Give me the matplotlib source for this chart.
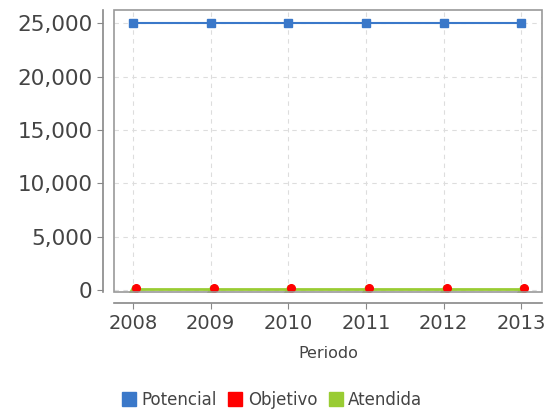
import matplotlib
matplotlib.use("Agg")
import matplotlib.pyplot as plt
from matplotlib.patches import Rectangle
from matplotlib.lines import Line2D
from matplotlib.ticker import FuncFormatter

years = [2008, 2009, 2010, 2011, 2012, 2013]
potencial = [25000, 25000, 25000, 25000, 25000, 25000]
objetivo = [150, 150, 150, 150, 150, 150]
atendida = [120, 120, 120, 120, 120, 120]

fig = plt.figure(figsize=(5.45, 4.13), dpi=100)
ax = fig.add_axes([0.209, 0.293, 0.786, 0.683])

ax.plot(years, potencial, '-', color='#3a78c9', lw=1.5, marker='s', ms=6, zorder=3)
ax.plot(years, atendida, '-', color='#99cc33', lw=2, marker='^', ms=6, zorder=3)
ax.plot([y + 0.04 for y in years], objetivo, 'o', color='#ff0000', ms=5.5, zorder=4)

ax.set_xlim(2007.755, 2013.27)
ax.set_ylim(-190, 26250)
ax.set_xticks(years)
ax.set_yticks([0, 5000, 10000, 15000, 20000, 25000])
ax.yaxis.set_major_formatter(FuncFormatter(lambda v, p: '{:,.0f}'.format(v)))
ax.grid(True, ls=(0, (4, 4)), color='#dddddd', lw=0.8)
ax.set_axisbelow(True)

for s in ['top', 'right']:
    ax.spines[s].set_visible(False)
for s in ['left', 'bottom']:
    ax.spines[s].set_position(('outward', 8))
    ax.spines[s].set_color('#888888')
    ax.spines[s].set_linewidth(1.2)
ax.add_patch(Rectangle((0, 0), 1, 1, transform=ax.transAxes, fill=False,
                       ec='#999999', lw=1.2, clip_on=False, zorder=5))
ax.tick_params(colors='#888888', labelcolor='#444444', length=4)
ax.tick_params(axis='x', labelsize=14)
ax.tick_params(axis='y', labelsize=15.5)

ax.set_xlabel('Periodo', fontsize=11.5, color='#444444', labelpad=10)

handles = [Line2D([], [], ls='', marker='s', ms=10, color=c) for c in ['#3a78c9', '#ff0000', '#99cc33']]
fig.legend(handles, ['Potencial', 'Objetivo', 'Atendida'], loc='center', bbox_to_anchor=(0.5, 0.031),
           ncol=3, frameon=False, fontsize=12, handlelength=0.8, handletextpad=0.35,
           columnspacing=0.7, labelcolor='#444444')

fig.savefig('out.png', dpi=100)
